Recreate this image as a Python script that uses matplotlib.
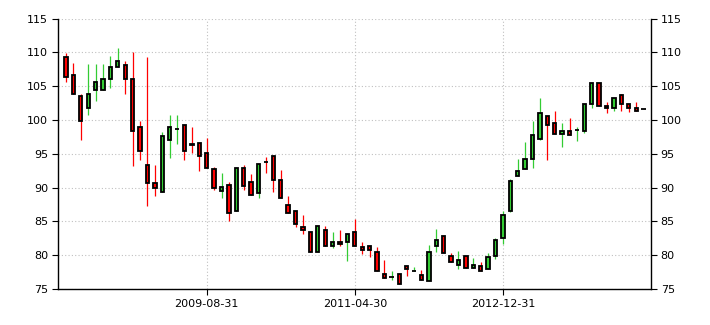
import matplotlib
matplotlib.use("Agg")
import matplotlib.pyplot as plt
from matplotlib.patches import Rectangle

# Monthly candles, Jan 2008 .. Jul 2014
months = [f"{y}-{m:02d}" for y in range(2008, 2015) for m in range(1, 13)][:79]

opens = [109.3, 106.6, 103.5, 101.8, 104.5, 104.5, 106.1, 107.8, 108.1, 106.0,
         99.0, 93.3, 90.7, 89.4, 97.1, 98.7, 99.2, 96.5, 96.6, 95.1,
         92.8, 89.5, 90.4, 86.6, 92.9, 90.8, 89.2, 93.85, 94.65, 91.1,
         87.5, 86.5, 84.1, 83.5, 80.4, 83.7, 81.3, 82.0, 81.9, 83.4,
         81.2, 81.4, 80.5, 77.2, 76.75, 77.2, 78.4, 77.6, 77.1, 76.2,
         81.3, 82.8, 79.85, 78.5, 79.9, 78.1, 78.4, 77.9, 79.85, 82.5,
         86.6, 91.7, 92.7, 94.3, 97.2, 100.6, 99.5, 97.9, 98.4, 98.55,
         98.3, 102.4, 105.4, 102.1, 101.8, 103.7, 102.3, 101.8, 101.6]
highs = [109.9, 108.4, 103.9, 108.3, 108.3, 108.3, 109.5, 110.6, 108.7, 110.1,
         99.8, 109.3, 93.4, 98.2, 100.8, 100.8, 99.2, 98.9, 96.6, 97.4,
         93.0, 92.2, 90.9, 92.9, 93.4, 92.0, 93.5, 94.6, 94.65, 92.6,
         88.7, 86.5, 85.9, 83.5, 84.3, 84.3, 83.4, 83.7, 83.1, 85.3,
         82.0, 81.4, 81.2, 79.3, 77.6, 77.2, 78.4, 78.3, 77.8, 81.5,
         83.9, 82.8, 80.35, 80.6, 79.9, 79.6, 79.0, 80.35, 82.6, 86.6,
         91.3, 94.3, 96.7, 99.8, 103.2, 100.6, 101.4, 99.5, 100.3, 99.0,
         102.4, 105.4, 105.4, 102.7, 103.3, 103.9, 102.3, 102.7, 101.6]
lows = [105.6, 103.8, 97.0, 100.8, 102.8, 104.5, 104.8, 107.8, 103.8, 93.2,
        94.1, 87.3, 88.8, 89.4, 94.4, 96.5, 94.1, 95.1, 92.4, 92.9,
        89.7, 88.5, 85.1, 86.6, 89.6, 88.9, 88.5, 92.1, 89.3, 88.4,
        86.3, 84.1, 83.1, 80.4, 80.4, 81.4, 81.1, 81.4, 79.1, 81.4,
        80.2, 79.8, 77.7, 76.6, 76.3, 75.7, 76.9, 77.6, 76.4, 76.2,
        80.5, 80.3, 78.96, 78.0, 78.1, 78.1, 77.6, 77.9, 79.4, 81.7,
        86.4, 91.7, 92.7, 92.9, 97.1, 94.1, 98.0, 96.0, 97.8, 96.9,
        98.1, 101.8, 102.0, 101.1, 101.4, 101.4, 101.2, 101.4, 101.6]
closes = [106.3, 103.8, 99.9, 103.9, 105.6, 106.1, 107.8, 108.8, 106.1, 98.4,
          95.4, 90.7, 90.0, 97.7, 99.0, 98.75, 95.4, 96.3, 94.7, 92.9,
          90.0, 90.1, 86.3, 92.9, 90.2, 88.9, 93.5, 93.75, 91.1, 88.4,
          86.3, 84.6, 83.7, 80.4, 84.3, 81.4, 82.0, 81.6, 83.1, 81.4,
          80.8, 80.7, 77.7, 76.7, 76.8, 75.7, 77.9, 77.7, 76.4, 80.4,
          82.2, 80.3, 78.96, 79.3, 78.1, 78.5, 77.6, 79.7, 82.2, 85.9,
          91.0, 92.4, 94.3, 97.8, 101.1, 99.2, 98.0, 98.3, 97.8, 98.6,
          102.4, 105.4, 102.0, 101.8, 103.2, 102.3, 101.8, 101.4, 101.6]

tick_idx = [19, 39, 59]
tick_labels = ["2009-08-31", "2011-04-30", "2012-12-31"]
y_ticks = [75, 80, 85, 90, 95, 100, 105, 110, 115]

UP = "#33cc33"
DOWN = "#ff0000"

fig = plt.figure(figsize=(7.1, 3.25), dpi=100)
ax = fig.add_axes([58/710, 36/325, (651-58)/710, (289-18.6)/325])

w = 0.45
for i, (o, h, l, c) in enumerate(zip(opens, highs, lows, closes)):
    col = UP if c >= o else DOWN
    ax.plot([i, i], [l, h], color=col, lw=0.9, zorder=2, solid_capstyle="butt")
    bottom = min(o, c)
    height = abs(c - o)
    if height < 0.05:
        ax.plot([i - w/2 - 0.1, i + w/2 + 0.1], [o, o], color="black", lw=1.3, zorder=3,
                solid_capstyle="butt")
    else:
        ax.add_patch(Rectangle((i - w/2, bottom), w, height, facecolor=col,
                               edgecolor="black", lw=1.3, zorder=3))

ax.set_xlim(-1.08, 79.0)
ax.set_ylim(75, 115)
ax.set_yticks(y_ticks)
ax.set_xticks(tick_idx)
ax.set_xticklabels(tick_labels)
ax.grid(True, color="#c0c0c0", linestyle=(0, (1, 2)), lw=0.8, zorder=0)
ax.set_axisbelow(True)
ax.spines["top"].set_visible(False)
for s in ["left", "right", "bottom"]:
    ax.spines[s].set_color("black")
    ax.spines[s].set_linewidth(1.0)
ax.tick_params(axis="y", which="both", left=True, right=True, labelleft=True,
               labelright=True, direction="out", length=4, labelsize=8, pad=3,
               colors="black")
ax.tick_params(axis="x", direction="out", length=4, labelsize=8, pad=3, colors="black")

fig.savefig("out.png", dpi=100)
